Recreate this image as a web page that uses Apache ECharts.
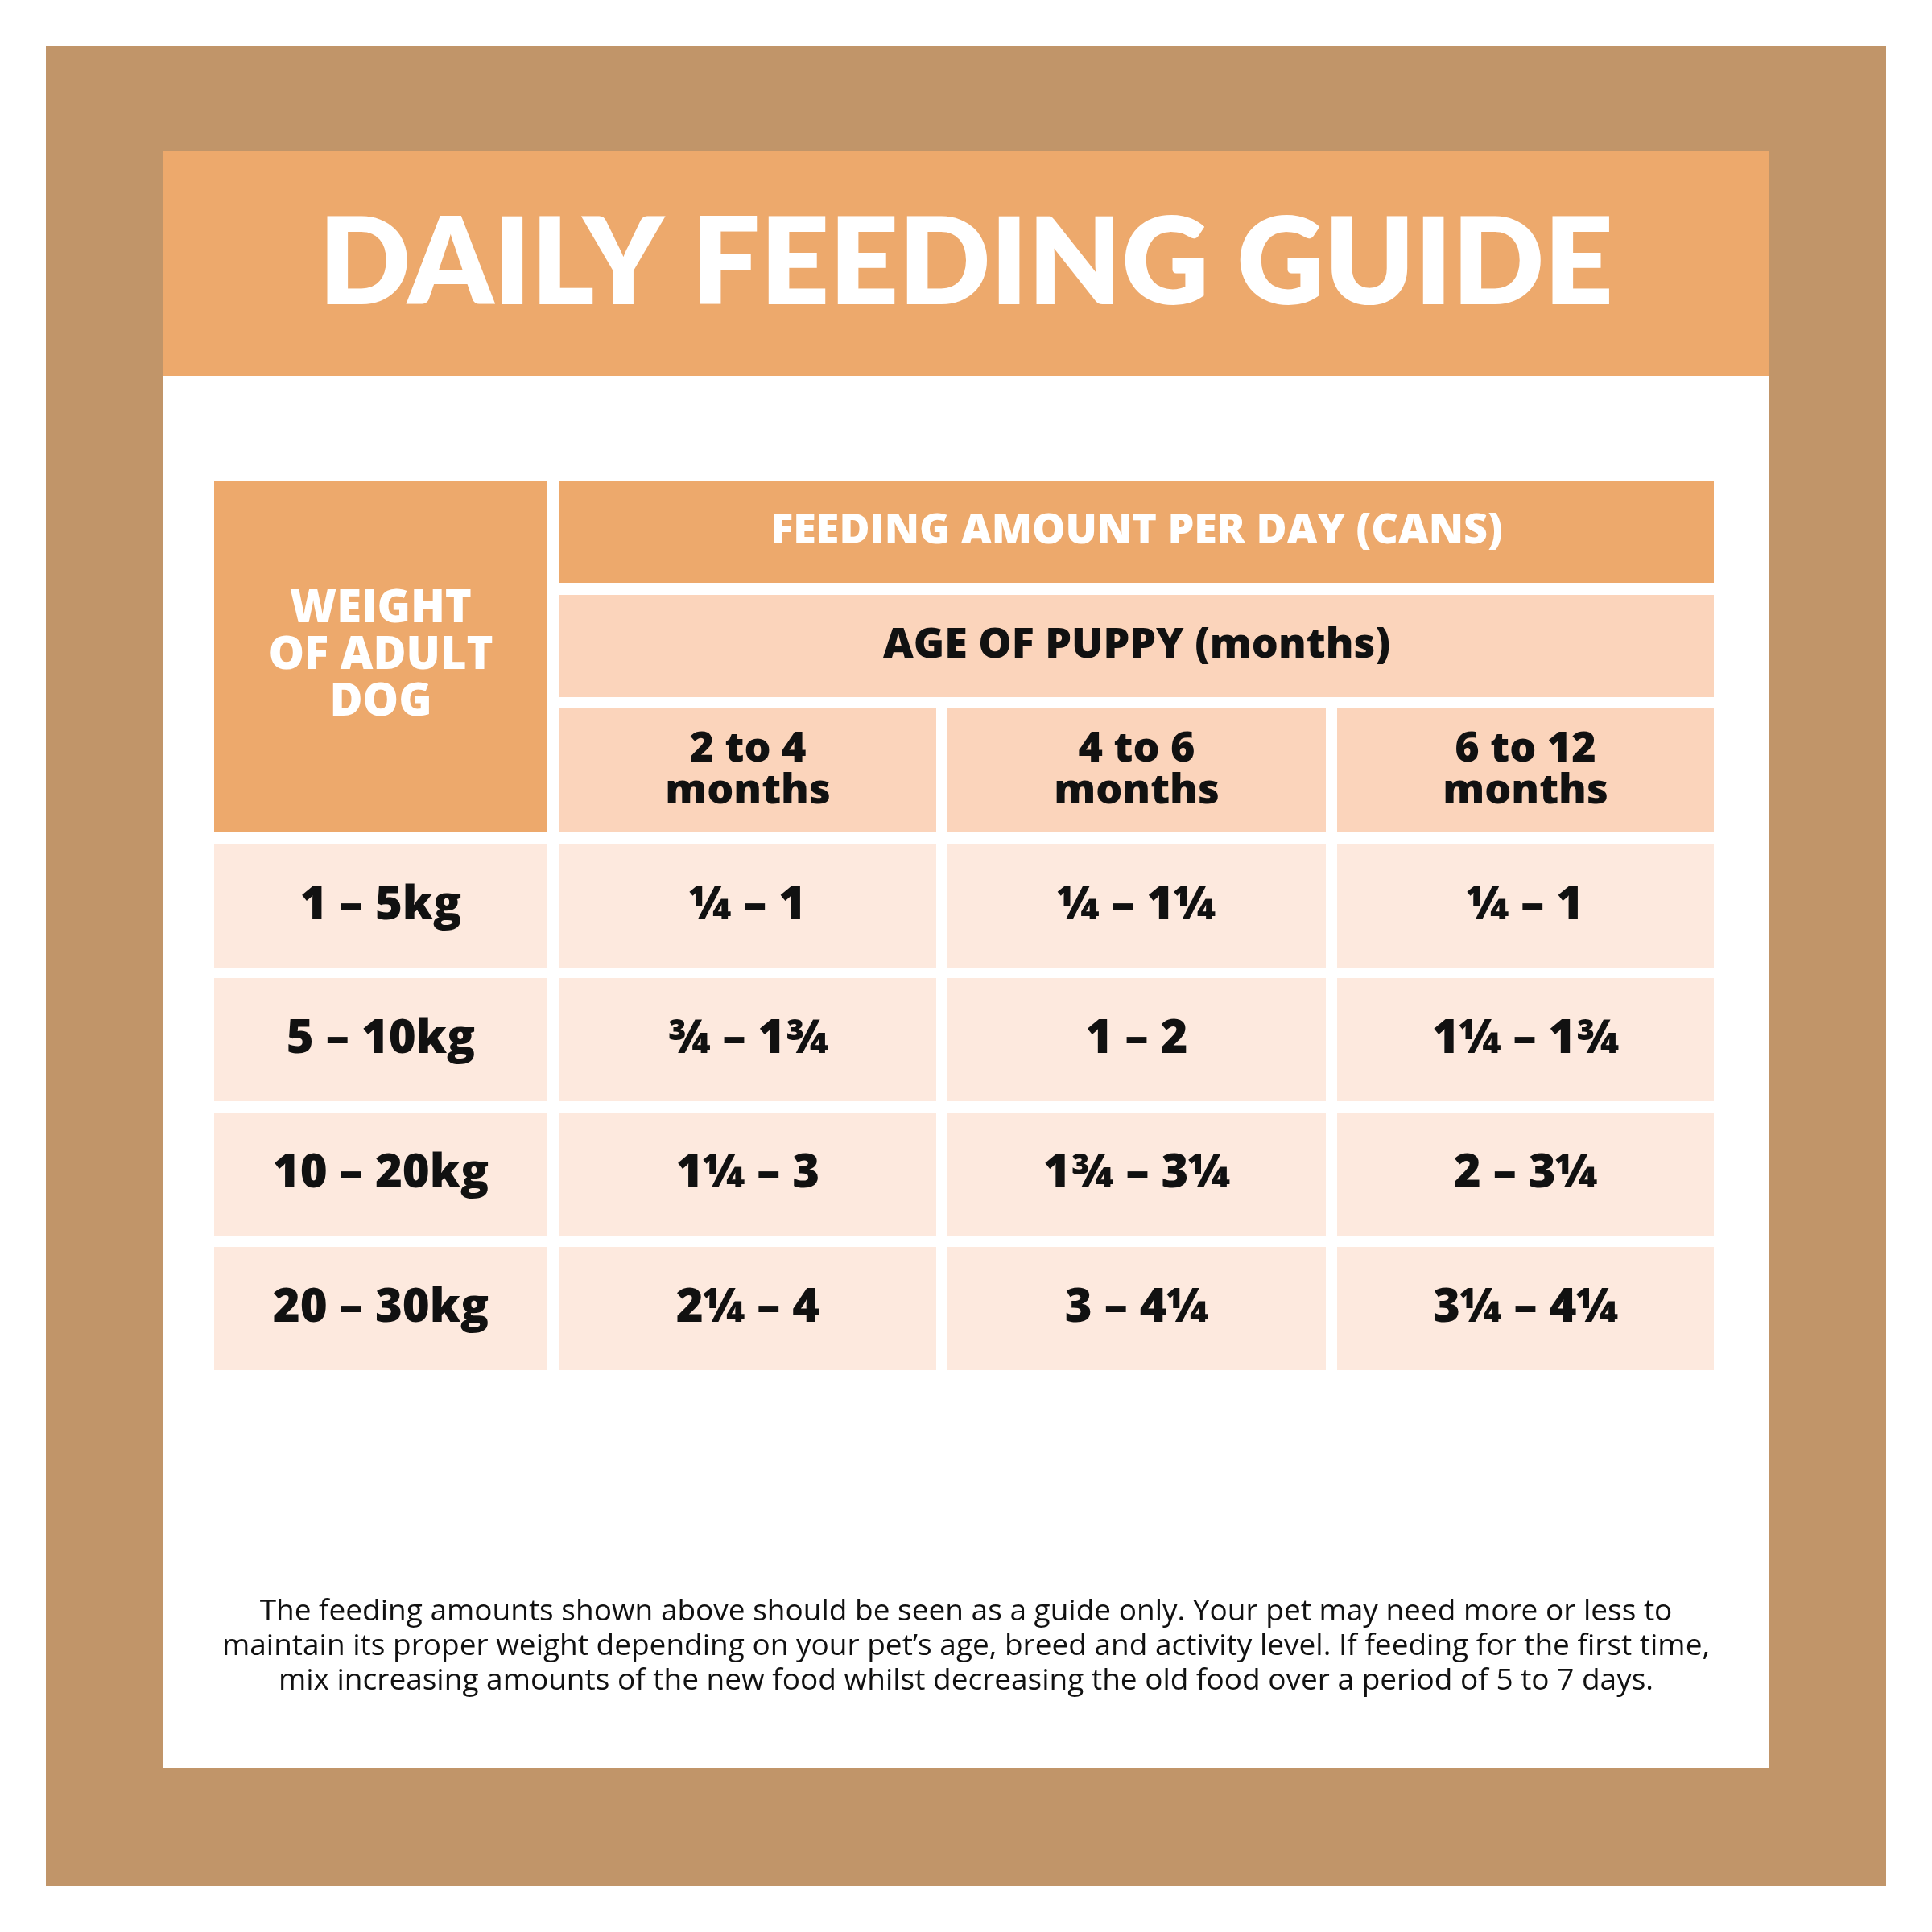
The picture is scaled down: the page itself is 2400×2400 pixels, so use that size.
<!DOCTYPE html>
<html><head><meta charset="utf-8">
<script src="https://cdn.jsdelivr.net/npm/echarts@6/dist/echarts.min.js"></script>
<style>html,body{margin:0;background:#fff}#main{width:2400px;height:2400px}</style>
</head><body><div id="main"></div>
<script>
// table data
const title = 'DAILY FEEDING GUIDE';
const weightHeader = 'WEIGHT\nOF ADULT\nDOG';
const amountHeader = 'FEEDING AMOUNT PER DAY (CANS)';
const ageHeader = 'AGE OF PUPPY (months)';
const ageGroups = ['2 to 4\nmonths', '4 to 6\nmonths', '6 to 12\nmonths'];
const weights = ['1 – 5kg', '5 – 10kg', '10 – 20kg', '20 – 30kg'];
const amounts2to4 = ['¼ – 1', '¾ – 1¾', '1¼ – 3', '2¼ – 4'];
const amounts4to6 = ['¼ – 1¼', '1 – 2', '1¾ – 3¼', '3 – 4¼'];
const amounts6to12 = ['¼ – 1', '1¼ – 1¾', '2 – 3¼', '3¼ – 4¼'];
const footnote = 'The feeding amounts shown above should be seen as a guide only. Your pet may need more or less to\nmaintain its proper weight depending on your pet’s age, breed and activity level. If feeding for the first time,\nmix increasing amounts of the new food whilst decreasing the old food over a period of 5 to 7 days.';

const ORANGE = '#EDA96C', PEACH = '#FBD4BB', CELL = '#FDE9DE';
const colX = [[695, 1163], [1177, 1647], [1661, 2129]];
const rowY = [[1048, 1202], [1215, 1368], [1382, 1535], [1549, 1702]];

const g = [];
function box(x1, y1, x2, y2, fill) {
  g.push({ type: 'rect', shape: { x: x1, y: y1, width: x2 - x1, height: y2 - y1 }, style: { fill } });
}
function label(x, y, text, size, fill, lh, font) {
  g.push({ type: 'text', x, y, style: { text, fill, font: `800 ${size}px ${font || '"Open Sans"'}`, align: 'center', verticalAlign: 'middle', lineHeight: lh || size } });
}

box(57, 57, 2343, 2343, '#C19569');
box(202, 187, 2198, 2196, '#ffffff');
box(202, 187, 2198, 467, ORANGE);
label(1200, 330, title, 150, '#ffffff', 150, 'Lato');

box(266, 597, 680, 1033, ORANGE);
label(473, 815, weightHeader, 56, '#ffffff', 58);
box(695, 597, 2129, 724, ORANGE);
label(1412, 660, amountHeader, 52, '#ffffff');
box(695, 739, 2129, 866, PEACH);
label(1412, 802, ageHeader, 52, '#111111');
ageGroups.forEach((a, i) => {
  box(colX[i][0], 880, colX[i][1], 1033, PEACH);
  label((colX[i][0] + colX[i][1]) / 2, 957, a, 52, '#111111', 52);
});
const cols = [amounts2to4, amounts4to6, amounts6to12];
weights.forEach((w, r) => {
  const [y1, y2] = rowY[r], cy = (y1 + y2) / 2;
  box(266, y1, 680, y2, CELL);
  label(473, cy, w, 58, '#111111');
  cols.forEach((c, i) => {
    box(colX[i][0], y1, colX[i][1], y2, CELL);
    label((colX[i][0] + colX[i][1]) / 2, cy, c[r], 58, '#111111');
  });
});
g.push({ type: 'text', x: 1200, y: 2045, style: { text: footnote, fill: '#111111', font: '500 37px "Open Sans"', align: 'center', verticalAlign: 'middle', lineHeight: 43 } });

const chart = echarts.init(document.getElementById('main'));
chart.setOption({ animation: false, graphic: { elements: g } });
</script></body></html>
